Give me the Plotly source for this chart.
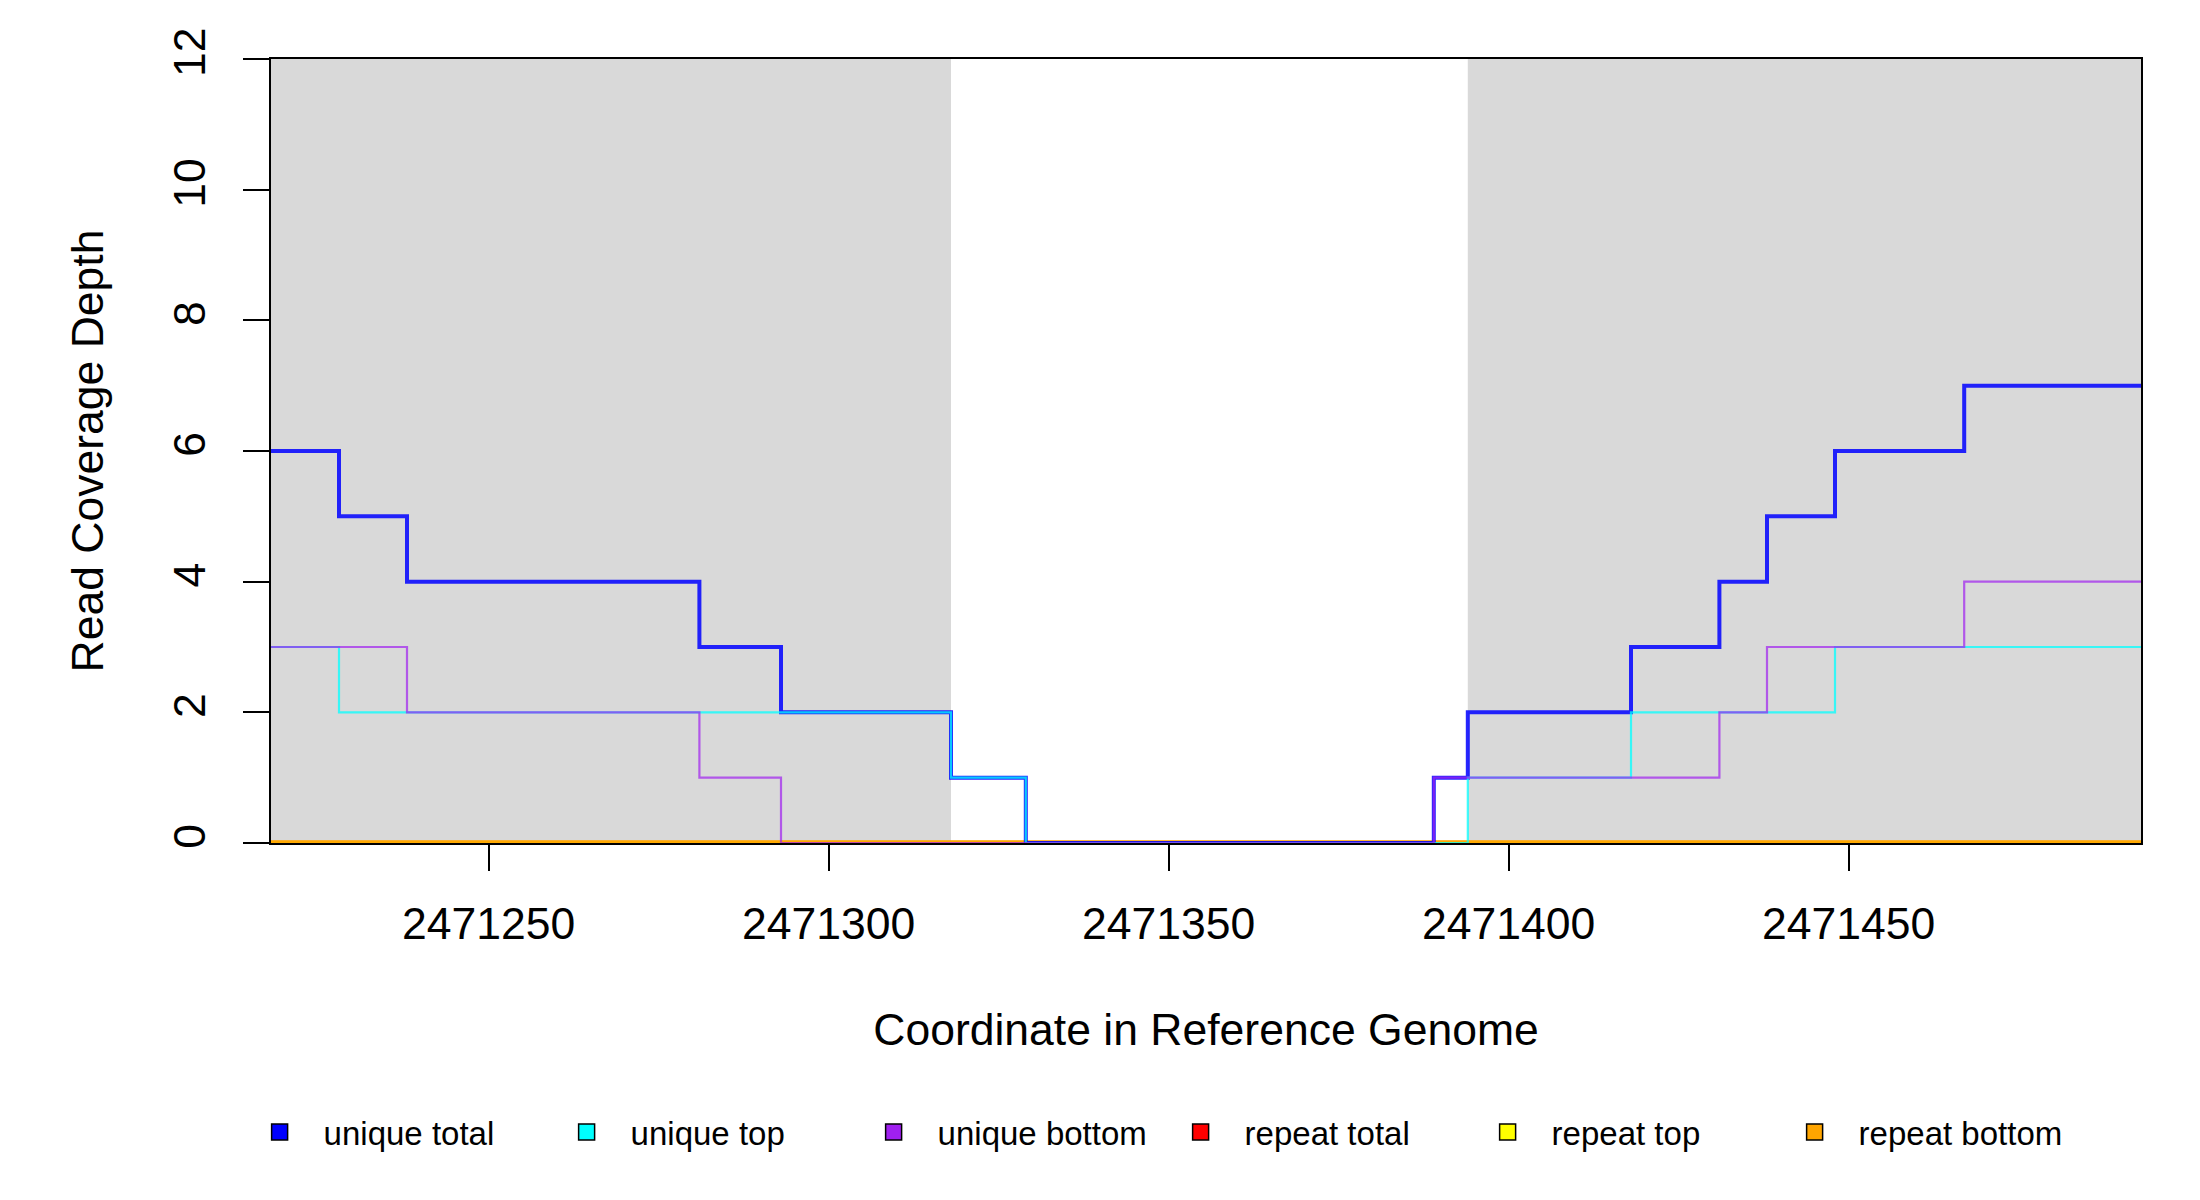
import plotly.graph_objects as go

# ---- data ----
x_breaks = [2471218, 2471228, 2471238, 2471281, 2471293, 2471318, 2471329,
            2471389, 2471394, 2471418, 2471431, 2471438, 2471448, 2471467, 2471493]
unique_total = [6, 5, 4, 3, 2, 1, 0, 1, 2, 3, 4, 5, 6, 7]
unique_top = [3, 2, 2, 2, 2, 1, 0, 0, 1, 2, 2, 2, 3, 3]
unique_bottom = [3, 3, 2, 1, 0, 0, 0, 1, 1, 1, 2, 3, 3, 4]
repeat_total = [0, 0, 0, 0, 0, 0, 0, 0, 0, 0, 0, 0, 0, 0]
repeat_top = [0, 0, 0, 0, 0, 0, 0, 0, 0, 0, 0, 0, 0, 0]
repeat_bottom = [0, 0, 0, 0, 0, 0, 0, 0, 0, 0, 0, 0, 0, 0]

region_starts = [2471218, 2471394]
region_ends = [2471318, 2471493]

x_ticks = [2471250, 2471300, 2471350, 2471400, 2471450]
y_ticks = [0, 2, 4, 6, 8, 10, 12]

series_names = ["unique total", "unique top", "unique bottom",
                "repeat total", "repeat top", "repeat bottom"]
series_values = [unique_total, unique_top, unique_bottom,
                 repeat_total, repeat_top, repeat_bottom]
series_colors = ["#0000FF", "#00FFFF", "#A020F0", "#FF0000", "#FFFF00", "#FFA500"]
series_rgba = ["rgba(0,0,255,0.85)", "rgba(0,255,255,0.75)", "rgba(160,32,240,0.7)",
               "rgba(255,0,0,0.75)", "rgba(255,255,0,0.75)", "rgba(255,165,0,0.9)"]
series_widths = [4, 2.2, 2.2, 5, 5, 5]

FONT = "Liberation Sans, Arial, sans-serif"
FS = 44.5

fig = go.Figure()

# draw order: repeat first, then unique
draw_order = [3, 4, 5, 0, 1, 2]
for i in draw_order:
    vals = series_values[i]
    fig.add_trace(go.Scatter(
        x=x_breaks, y=vals + [vals[-1]],
        mode="lines", line=dict(shape="hv", color=series_rgba[i], width=series_widths[i]),
        showlegend=False, hoverinfo="skip"))

# legend entries (filled boxes)
for name, col in zip(series_names, series_colors):
    fig.add_trace(go.Scatter(
        x=[None], y=[None], mode="markers", name=name,
        marker=dict(symbol="square", size=16, color=col, line=dict(color="black", width=1.5))))

for x0, x1 in zip(region_starts, region_ends):
    fig.add_shape(type="rect", xref="x", yref="y", x0=x0, x1=x1, y0=0, y1=12,
                  fillcolor="#D9D9D9", line=dict(width=0), layer="below")

fig.update_layout(
    width=2200, height=1200,
    margin=dict(l=271, r=59, t=59, b=357),
    paper_bgcolor="white", plot_bgcolor="white",
    font=dict(family=FONT, size=FS, color="black"),
    showlegend=True,
    legend=dict(orientation="h", xref="container", yref="container",
                x=0.1071, y=1 - 1132 / 1200, xanchor="left", yanchor="middle",
                font=dict(size=33), entrywidth=214, entrywidthmode="pixels",
                itemwidth=78, bgcolor="rgba(0,0,0,0)"),
    xaxis=dict(range=[2471218, 2471493], tickvals=x_ticks,
               ticktext=[str(v) for v in x_ticks],
               ticks="outside", ticklen=26, tickwidth=2, tickcolor="black",
               showline=True, linecolor="black", linewidth=2, mirror=True,
               showgrid=False, zeroline=False, ticklabelstandoff=15,
               tickfont=dict(size=FS),
               title=dict(text="Coordinate in Reference Genome", standoff=66,
                          font=dict(size=FS))),
    yaxis=dict(range=[0, 12], tickvals=y_ticks,
               ticks="outside", ticklen=26, tickwidth=2, tickcolor="black",
               showline=True, linecolor="black", linewidth=2, mirror=True,
               showgrid=False, zeroline=False, tickangle=-90, ticklabelstandoff=20,
               tickfont=dict(size=FS),
               title=dict(text="Read Coverage Depth", standoff=48,
                          font=dict(size=FS))),
)

fig.write_html("out.html", config={"displayModeBar": False},
               post_script="document.body.style.margin='0';")
